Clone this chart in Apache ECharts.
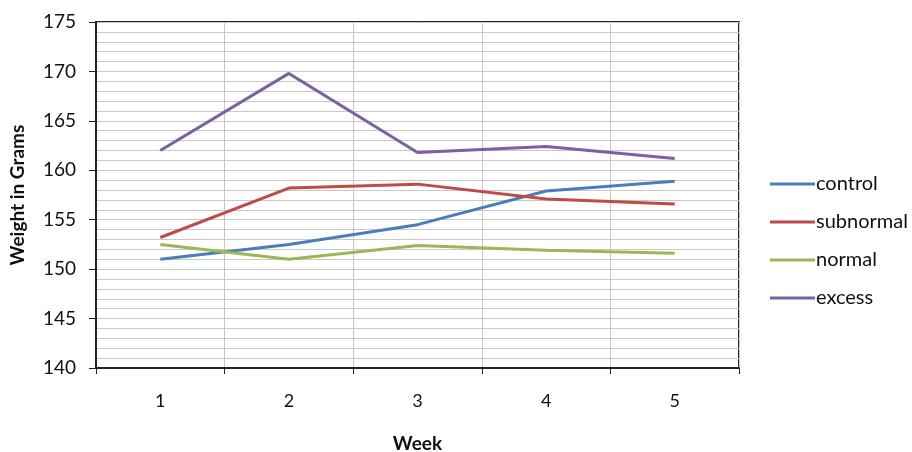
<!DOCTYPE html>
<html><head><meta charset="utf-8">
<script src="https://cdn.jsdelivr.net/npm/echarts@6/dist/echarts.min.js"></script>
<style>html,body{margin:0;padding:0;background:#fff}#c{width:912px;height:452px}</style>
</head><body><div id="c"></div>
<script>
const weeks = [1, 2, 3, 4, 5];
const control = [151.0, 152.5, 154.5, 157.9, 158.9];
const subnormal = [153.2, 158.2, 158.6, 157.1, 156.6];
const normal = [152.5, 151.0, 152.4, 151.9, 151.6];
const excess = [162.0, 169.8, 161.8, 162.4, 161.2];
const yTicks = [140, 145, 150, 155, 160, 165, 170, 175];
const seriesNames = ['control', 'subnormal', 'normal', 'excess'];
const colors = ['#4a7ebb', '#be4b48', '#98b954', '#7d60a0'];
const values = [control, subnormal, normal, excess];

const font = 'Lato, "Open Sans", sans-serif';
const chart = echarts.init(document.getElementById('c'));
chart.setOption({
  animation: false,
  textStyle: { fontFamily: font },
  grid: { left: 96, right: 173, top: 22, bottom: 84, show: true, borderColor: '#222', borderWidth: 2, backgroundColor: 'transparent', outerBoundsMode: 'none', containLabel: false },
  legend: {
    orient: 'vertical', left: 765, top: 169, itemGap: 18,
    itemWidth: 45, itemHeight: 20, icon: 'path://M0,8.5 L45,8.5 L45,11.5 L0,11.5 Z',
    textStyle: { fontSize: 20, color: '#111', fontFamily: font, padding: [0, 0, 0, -4] },
    data: seriesNames
  },
  xAxis: {
    type: 'value', min: 0.5, max: 5.5, interval: 0.5,
    name: 'Week', nameLocation: 'middle', nameGap: 66,
    nameTextStyle: { fontSize: 19, fontWeight: 'bold', color: '#111', fontFamily: font },
    axisLine: { show: true, lineStyle: { color: '#222', width: 2 } },
    axisTick: { show: true, length: 6, lineStyle: { color: '#222' }, customValues: [0.5, 1.5, 2.5, 3.5, 4.5, 5.5] },
    axisLabel: { fontSize: 18, color: '#111', margin: 24, customValues: weeks, formatter: v => String(v) },
    splitLine: { show: true, lineStyle: { color: '#c8c8c8', width: 1 } }
  },
  yAxis: {
    type: 'value', min: yTicks[0], max: yTicks[yTicks.length - 1], interval: 5,
    name: 'Weight in Grams', nameLocation: 'middle', nameGap: 69, nameRotate: 90,
    nameTextStyle: { fontSize: 19, fontWeight: 'bold', color: '#111', fontFamily: font },
    axisLine: { show: true, lineStyle: { color: '#222', width: 2 } },
    axisTick: { show: true, length: 7, lineStyle: { color: '#222' } },
    axisLabel: { fontSize: 19, color: '#111', margin: 20 },
    splitLine: { show: true, lineStyle: { color: '#c8c8c8', width: 1 } },
    minorTick: { show: false, splitNumber: 5 },
    minorSplitLine: { show: true, lineStyle: { color: '#c8c8c8', width: 1 } }
  },
  series: seriesNames.map((n, i) => ({
    name: n, type: 'line', symbol: 'none',
    data: weeks.map((w, j) => [w, values[i][j]]),
    lineStyle: { color: colors[i], width: 3 },
    itemStyle: { color: colors[i] }
  }))
});
</script></body></html>
